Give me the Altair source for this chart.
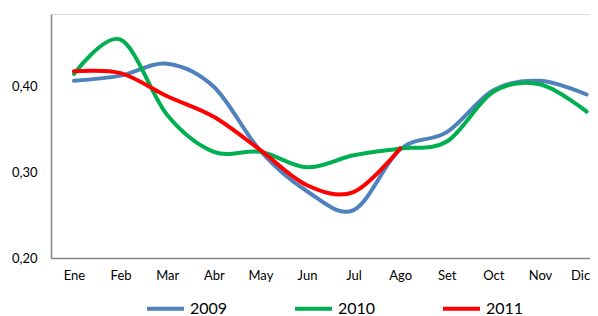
import altair as alt
import pandas as pd

months = ["Ene", "Feb", "Mar", "Abr", "May", "Jun", "Jul", "Ago", "Set", "Oct", "Nov", "Dic"]
s2009 = [0.407, 0.413, 0.427, 0.400, 0.325, 0.278, 0.256, 0.327, 0.347, 0.396, 0.407, 0.391]
s2010 = [0.415, 0.455, 0.367, 0.324, 0.324, 0.306, 0.320, 0.328, 0.336, 0.394, 0.403, 0.371]
s2011 = [0.418, 0.416, 0.389, 0.365, 0.326, 0.285, 0.277, 0.328]

series = {"2009": s2009, "2010": s2010, "2011": s2011}
rows = []
for name, vals in series.items():
    for m, v in zip(months, vals):
        rows.append({"Mes": m, "Valor": v, "Serie": name})
df = pd.DataFrame(rows)

chart = alt.Chart(df).mark_line(
    interpolate="cardinal", strokeWidth=4, strokeCap="round"
).encode(
    x=alt.X("Mes:N", sort=months,
            scale=alt.Scale(type="point", padding=0.283, align=0.871),
            axis=alt.Axis(title=None, labelAngle=0, ticks=False, domainColor="#868686",
                          domainWidth=1.5, labelPadding=11, labelFontSize=13,
                          labelFont="Lato", labelColor="#000000", grid=False,
                          labelAlign={"condition": {"test": "datum.value == 'Dic'", "value": "right"},
                                      "value": "center"},
                          labelOffset={"condition": {"test": "datum.value == 'Dic'", "value": 3},
                                       "value": 0})),
    y=alt.Y("Valor:Q", scale=alt.Scale(domain=[0.2, 0.485], nice=False, zero=False),
            axis=alt.Axis(title=None, values=[0.2, 0.3, 0.4], ticks=False,
                          domainColor="#868686", domainWidth=1.5, grid=False,
                          labelExpr="replace(format(datum.value, '.2f'), '.', ',')",
                          labelPadding=14, labelFontSize=13, labelFont="Lato",
                          labelColor="#000000")),
    color=alt.Color("Serie:N",
                    scale=alt.Scale(domain=["2009", "2010", "2011"],
                                    range=["#4F81BD", "#00B050", "#FF0000"]),
                    legend=alt.Legend(title=None, orient="none", direction="horizontal",
                                      legendX=94, legendY=274, symbolType="stroke",
                                      symbolSize=1369, symbolStrokeWidth=4,
                                      labelFontSize=16, labelFont="Lato",
                                      labelColor="#000000", labelOffset=4,
                                      columnPadding=59, padding=0)),
).properties(
    width=539, height=244,
    autosize=alt.AutoSizeParams(type="none"),
    padding={"left": 43, "top": 6, "right": 0, "bottom": 58},
).configure_view(stroke=None).configure(background="white")

chart.save("out.html", embed_options={"renderer": "svg", "actions": False})
